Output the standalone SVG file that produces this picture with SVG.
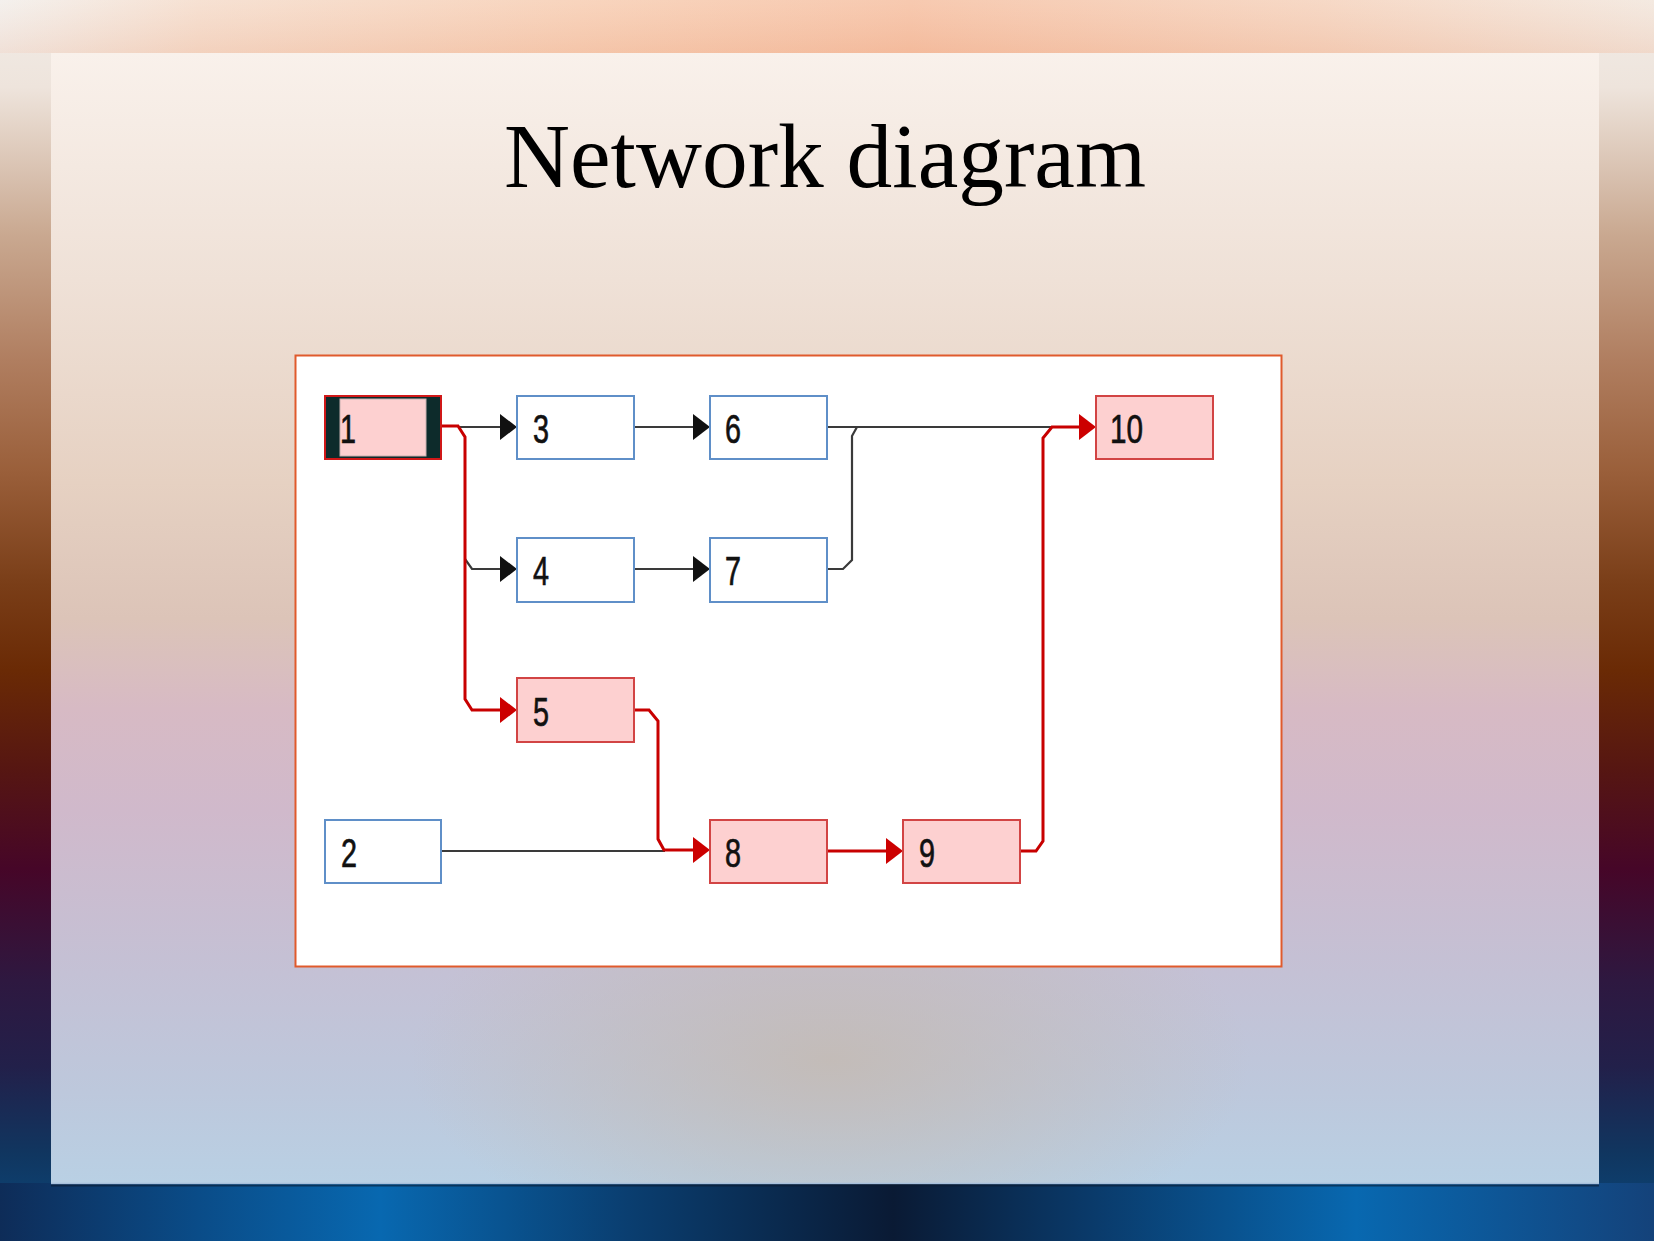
<svg xmlns="http://www.w3.org/2000/svg" width="1654" height="1241" viewBox="0 0 1654 1241">
  <defs>
    <linearGradient id="sideGrad" x1="0" y1="0" x2="0" y2="1">
      <stop offset="0" stop-color="#f2ede8"/>
      <stop offset="0.07" stop-color="#eee4dc"/>
      <stop offset="0.19" stop-color="#c9a890"/>
      <stop offset="0.29" stop-color="#b07e60"/>
      <stop offset="0.38" stop-color="#9a5f3a"/>
      <stop offset="0.47" stop-color="#7a3e18"/>
      <stop offset="0.54" stop-color="#6a2a05"/>
      <stop offset="0.62" stop-color="#561612"/>
      <stop offset="0.70" stop-color="#460628"/>
      <stop offset="0.79" stop-color="#2e1840"/>
      <stop offset="0.86" stop-color="#22204a"/>
      <stop offset="0.93" stop-color="#103660"/>
      <stop offset="1" stop-color="#0a4a80"/>
    </linearGradient>
    <linearGradient id="topGrad" x1="0" y1="0" x2="1" y2="0">
      <stop offset="0" stop-color="#f2eeea"/>
      <stop offset="0.12" stop-color="#f5dccb"/>
      <stop offset="0.35" stop-color="#f7cdb2"/>
      <stop offset="0.55" stop-color="#f6c0a2"/>
      <stop offset="0.8" stop-color="#f5d2bc"/>
      <stop offset="1" stop-color="#f2e6dc"/>
    </linearGradient>
    <linearGradient id="topShade" x1="0" y1="0" x2="0" y2="1">
      <stop offset="0" stop-color="#ffffff" stop-opacity="0.15"/>
      <stop offset="1" stop-color="#e8a080" stop-opacity="0.18"/>
    </linearGradient>
    <linearGradient id="botGrad" x1="0" y1="0" x2="1" y2="0">
      <stop offset="0" stop-color="#0e2c58"/>
      <stop offset="0.12" stop-color="#0a4c88"/>
      <stop offset="0.23" stop-color="#0868b0"/>
      <stop offset="0.38" stop-color="#0a3e70"/>
      <stop offset="0.54" stop-color="#0a1a34"/>
      <stop offset="0.66" stop-color="#0a3a6a"/>
      <stop offset="0.82" stop-color="#0868b0"/>
      <stop offset="1" stop-color="#14427a"/>
    </linearGradient>
    <linearGradient id="panelGrad" x1="0" y1="0" x2="0" y2="1">
      <stop offset="0" stop-color="#f9f1eb"/>
      <stop offset="0.2" stop-color="#efe1d7"/>
      <stop offset="0.38" stop-color="#e6d1c2"/>
      <stop offset="0.5" stop-color="#dcc4b8"/>
      <stop offset="0.58" stop-color="#d7bac4"/>
      <stop offset="0.67" stop-color="#d0b9cb"/>
      <stop offset="0.8" stop-color="#c5c0d4"/>
      <stop offset="0.92" stop-color="#bdc8dc"/>
      <stop offset="1" stop-color="#b9d0e4"/>
    </linearGradient>
    <radialGradient id="panelCenter" cx="0.5" cy="0.5" r="0.5">
      <stop offset="0" stop-color="#c4bab2" stop-opacity="0.85"/>
      <stop offset="1" stop-color="#c4bab2" stop-opacity="0"/>
    </radialGradient>
    <clipPath id="panelClip">
      <rect x="51" y="53" width="1548" height="1130"/>
    </clipPath>
    <marker id="arrBlack" markerUnits="userSpaceOnUse" markerWidth="17" markerHeight="26" refX="0" refY="13" orient="auto" viewBox="0 0 17 26">
      <path d="M0,0 L17,13 L0,26 Z" fill="#111111"/>
    </marker>
    <marker id="arrRed" markerUnits="userSpaceOnUse" markerWidth="17" markerHeight="26" refX="0" refY="13" orient="auto" viewBox="0 0 17 26">
      <path d="M0,0 L17,13 L0,26 Z" fill="#cc0000"/>
    </marker>
  </defs>
  <style>
    .blue { fill: #ffffff; stroke: #5f8fc8; stroke-width: 2; }
    .red { fill: #fdd0d0; stroke: #d24444; stroke-width: 2; }
    .lbl { font-family: "Liberation Sans", Arial, sans-serif; font-size: 40px; fill: #111111; stroke: #111111; stroke-width: 0.7; }
    .cb { fill: none; stroke: #3a3a3a; stroke-width: 2.2; }
    .cr { fill: none; stroke: #c80000; stroke-width: 3; }
    .title { font-family: "Liberation Serif", "Times New Roman", serif; font-size: 92px; fill: #000000; }
  </style>

  <!-- background -->
  <rect x="0" y="0" width="1654" height="1241" fill="url(#sideGrad)"/>
  <rect x="0" y="0" width="1654" height="53" fill="url(#topGrad)"/>
  <rect x="0" y="0" width="1654" height="53" fill="url(#topShade)"/>
  <rect x="0" y="1183" width="1654" height="58" fill="url(#botGrad)"/>

  <!-- slide panel -->
  <rect x="51" y="53" width="1548" height="1130" fill="url(#panelGrad)"/>
  <ellipse cx="830" cy="1060" rx="420" ry="200" fill="url(#panelCenter)" clip-path="url(#panelClip)"/>
  <line x1="51" y1="1183.5" x2="1599" y2="1183.5" stroke="#a8c0dc" stroke-width="1.5"/>
  <line x1="51" y1="1185.5" x2="1599" y2="1185.5" stroke="#0a1a30" stroke-width="2" opacity="0.6"/>

  <!-- title -->
  <text class="title" x="825" y="187" text-anchor="middle" textLength="642" lengthAdjust="spacingAndGlyphs">Network diagram</text>

  <!-- diagram frame -->
  <rect x="295.5" y="355.5" width="986" height="611" fill="#ffffff" stroke="#e05a2c" stroke-width="2"/>

  <!-- connectors -->
  <g id="connectors">
    <path class="cb" d="M458,427 H500" marker-end="url(#arrBlack)"/>
    <path class="cb" d="M634,427 H693" marker-end="url(#arrBlack)"/>
    <path class="cb" d="M465,559 L472,569 H500" marker-end="url(#arrBlack)"/>
    <path class="cb" d="M634,569 H693" marker-end="url(#arrBlack)"/>
    <path class="cb" d="M827,427 H1053"/>
    <path class="cb" d="M827,569 H843 L852,560 V436 L857,427"/>
    <path class="cb" d="M441,851 H665"/>
    <path class="cr" d="M441,426 H458 L465,437 V699 L472,710 H500" marker-end="url(#arrRed)"/>
    <path class="cr" d="M634,710 H649 L658,721 V839 L664,850 H693" marker-end="url(#arrRed)"/>
    <path class="cr" d="M827,851 H886" marker-end="url(#arrRed)"/>
    <path class="cr" d="M1020,851 H1036 L1043,841 V438 L1052,427 H1079" marker-end="url(#arrRed)"/>
  </g>

  <!-- nodes -->
  <g id="node1">
    <rect x="325" y="396" width="116" height="63" fill="#0d2b2b" stroke="#d01818" stroke-width="2"/>
    <rect x="340" y="399" width="86" height="57" fill="#fdd0d0" stroke="#c8b0b0" stroke-width="1"/>
    <text class="lbl" x="340" y="443" textLength="16" lengthAdjust="spacingAndGlyphs">1</text>
  </g>
  <g id="node2">
    <rect class="blue" x="325" y="820" width="116" height="63"/>
    <text class="lbl" x="341" y="867" textLength="16" lengthAdjust="spacingAndGlyphs">2</text>
  </g>
  <g id="node3">
    <rect class="blue" x="517" y="396" width="117" height="63"/>
    <text class="lbl" x="533" y="443" textLength="16" lengthAdjust="spacingAndGlyphs">3</text>
  </g>
  <g id="node4">
    <rect class="blue" x="517" y="538" width="117" height="64"/>
    <text class="lbl" x="533" y="585" textLength="16" lengthAdjust="spacingAndGlyphs">4</text>
  </g>
  <g id="node5">
    <rect class="red" x="517" y="678" width="117" height="64"/>
    <text class="lbl" x="533" y="726" textLength="16" lengthAdjust="spacingAndGlyphs">5</text>
  </g>
  <g id="node6">
    <rect class="blue" x="710" y="396" width="117" height="63"/>
    <text class="lbl" x="725" y="443" textLength="16" lengthAdjust="spacingAndGlyphs">6</text>
  </g>
  <g id="node7">
    <rect class="blue" x="710" y="538" width="117" height="64"/>
    <text class="lbl" x="725" y="585" textLength="16" lengthAdjust="spacingAndGlyphs">7</text>
  </g>
  <g id="node8">
    <rect class="red" x="710" y="820" width="117" height="63"/>
    <text class="lbl" x="725" y="867" textLength="16" lengthAdjust="spacingAndGlyphs">8</text>
  </g>
  <g id="node9">
    <rect class="red" x="903" y="820" width="117" height="63"/>
    <text class="lbl" x="919" y="867" textLength="16" lengthAdjust="spacingAndGlyphs">9</text>
  </g>
  <g id="node10">
    <rect class="red" x="1096" y="396" width="117" height="63"/>
    <text class="lbl" x="1110" y="443" textLength="33" lengthAdjust="spacingAndGlyphs">10</text>
  </g>
</svg>
